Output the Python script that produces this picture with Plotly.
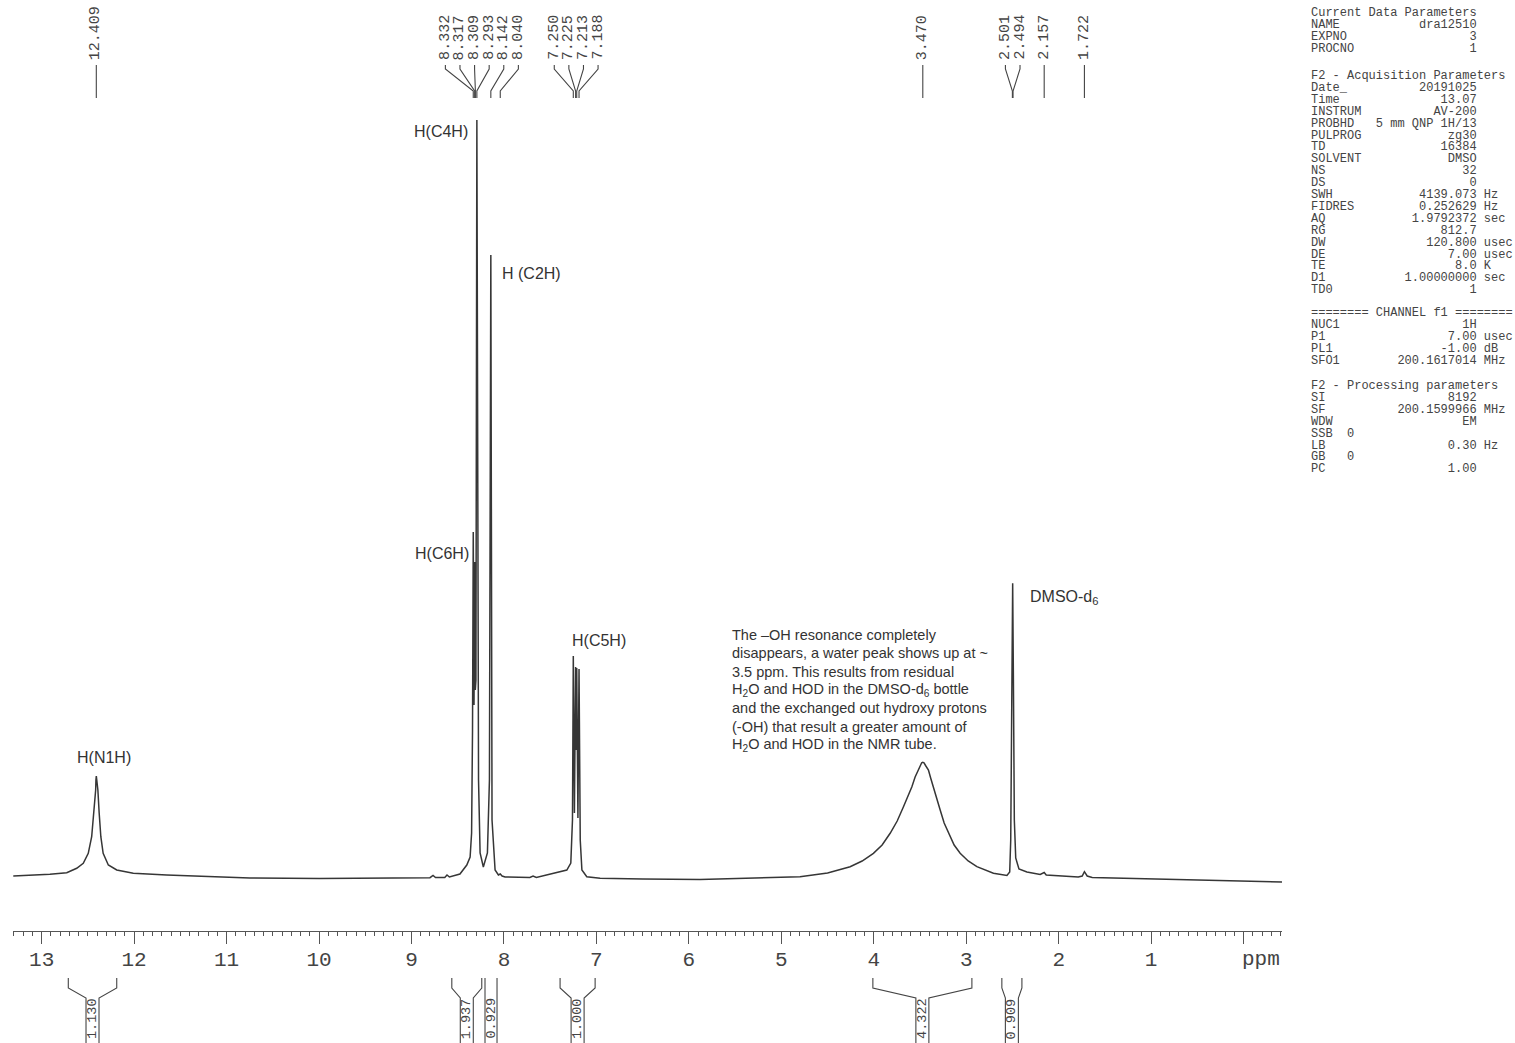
import plotly.graph_objects as go

# ---------------- data ----------------
# digitised 1H NMR trace (chemical shift in ppm, intensity in arbitrary units)
shift_ppm = [
    13.307, 12.911, 12.729, 12.621, 12.550, 12.496, 12.459, 12.434, 12.416, 12.413, 12.409,
    12.404, 12.392, 12.378, 12.360, 12.335, 12.279, 12.188, 12.009, 11.648, 10.748, 10.000,
    9.000, 8.800, 8.767, 8.740, 8.640, 8.616, 8.590, 8.476, 8.402, 8.366,
    8.350, 8.340, 8.332, 8.324, 8.317, 8.310, 8.303, 8.293, 8.285, 8.275,
    8.258, 8.223, 8.179, 8.157, 8.142, 8.129, 8.096, 8.060, 8.040, 8.020,
    7.988, 7.720, 7.685, 7.650, 7.320, 7.277, 7.259, 7.250, 7.238, 7.225,
    7.219, 7.213, 7.200, 7.188, 7.175, 7.157, 7.104, 6.960, 6.500, 5.880,
    4.798, 4.500, 4.256, 4.126, 4.004, 3.910, 3.823, 3.747, 3.679, 3.628,
    3.588, 3.553, 3.517, 3.495, 3.482, 3.470, 3.457, 3.440, 3.409, 3.385,
    3.355, 3.320, 3.282, 3.239, 3.192, 3.131, 3.066, 2.979, 2.885, 2.741,
    2.706, 2.560, 2.530,
    2.519, 2.505, 2.498, 2.490, 2.480, 2.465, 2.430, 2.344, 2.200, 2.157,
    2.135, 1.789, 1.746, 1.722, 1.692, 1.638, 0.577, -0.415,
]
intensity = [
    4.0, 5.7, 7.3, 11.7, 16.7, 26.7, 43.3, 67.0, 90.0, 100.0, 104.0,
    100.0, 90.0, 67.0, 43.3, 26.7, 15.0, 10.0, 6.7, 5.0, 2.0, 1.5,
    2.0, 2.3, 4.5, 2.5, 2.5, 5.0, 3.0, 6.0, 15.0, 23.0,
    47.0, 150.0, 348.0, 175.0, 318.0, 190.0, 200.0, 760.0, 240.0, 100.0,
    27.0, 13.0, 27.0, 100.0, 625.0, 60.0, 10.0, 5.0, 6.0, 4.0,
    3.0, 2.5, 4.0, 2.5, 10.0, 17.0, 60.0, 224.0, 67.0, 213.0,
    130.0, 212.0, 62.0, 211.0, 40.0, 10.0, 3.3, 1.7, 1.0, 0.5,
    3.3, 7.0, 13.3, 19.0, 26.7, 35.0, 46.7, 59.0, 73.3, 84.0,
    93.3, 103.0, 110.0, 115.0, 117.2, 117.7, 117.2, 114.5, 110.0, 102.0,
    93.3, 82.0, 70.0, 57.0, 46.7, 35.0, 26.7, 19.0, 13.3, 8.0,
    6.7, 4.5, 8.0,
    40.0, 200.0, 296.7, 200.0, 60.0, 22.0, 11.0, 8.0, 5.5, 7.5,
    5.0, 3.0, 4.0, 8.3, 4.0, 2.5, 0.0, -2.0,
]

# peak-pick labels (ppm)
peak_list_ppm = [12.409, 8.332, 8.317, 8.309, 8.293, 8.142, 8.040,
                 7.250, 7.225, 7.213, 7.188, 3.470, 2.501, 2.494, 2.157, 1.722]

# integrals
integral_start = [12.712, 8.564, 8.205, 7.393, 4.010, 2.615]
integral_end = [12.188, 8.240, 8.075, 7.014, 2.939, 2.398]
integral_value = ["1.130", "1.937", "0.929", "1.000", "4.322", "0.909"]

# axis ticks
tick_values = [13, 12, 11, 10, 9, 8, 7, 6, 5, 4, 3, 2, 1, 0]
tick_labels = ["13", "12", "11", "10", "9", "8", "7", "6", "5", "4", "3", "2", "1", " "]

# peak assignments
assignment_text = ["H(N1H)", "H(C4H)", "H (C2H)", "H(C6H)", "H(C5H)", "DMSO-d<sub>6</sub>"]

note_lines = [
    "The \u2013OH resonance completely",
    "disappears, a water peak shows up at ~",
    "3.5 ppm. This results from residual",
    "H<sub>2</sub>O and HOD in the DMSO-d<sub>6</sub> bottle",
    "and the exchanged out hydroxy protons",
    "(-OH) that result a greater amount of",
    "H<sub>2</sub>O and HOD in the NMR tube.",
]

# acquisition / processing parameter listing: (name, value, unit)
param_blocks = [
    [("Current Data Parameters", None, None),
     ("NAME", "dra12510", ""), ("EXPNO", "3", ""), ("PROCNO", "1", "")],
    [("F2 - Acquisition Parameters", None, None),
     ("Date_", "20191025", ""), ("Time", "13.07", ""), ("INSTRUM", "AV-200", ""),
     ("PROBHD", "5 mm QNP 1H/13", ""), ("PULPROG", "zg30", ""), ("TD", "16384", ""),
     ("SOLVENT", "DMSO", ""), ("NS", "32", ""), ("DS", "0", ""),
     ("SWH", "4139.073", "Hz"), ("FIDRES", "0.252629", "Hz"), ("AQ", "1.9792372", "sec"),
     ("RG", "812.7", ""), ("DW", "120.800", "usec"), ("DE", "7.00", "usec"),
     ("TE", "8.0", "K"), ("D1", "1.00000000", "sec"), ("TD0", "1", "")],
    [("======== CHANNEL f1 ========", None, None),
     ("NUC1", "1H", ""), ("P1", "7.00", "usec"), ("PL1", "-1.00", "dB"),
     ("SFO1", "200.1617014", "MHz")],
    [("F2 - Processing parameters", None, None),
     ("SI", "8192", ""), ("SF", "200.1599966", "MHz"), ("WDW", "EM", ""),
     ("SSB", "0", "left"), ("LB", "0.30", "Hz"), ("GB", "0", "left"), ("PC", "1.00", "")],
]

# ---------------- layout geometry ----------------
W, H = 1515, 1043
L, R, T, B = 13, 1282, 0, 931
X_LEFT, X_RIGHT = 13.31, -0.415
Y_BOTTOM, Y_TOP = -51, 880

INK = "#333333"
GREY = "#444444"
MONO = "Liberation Mono, Courier New, monospace"
SANS = "Liberation Sans, Arial, sans-serif"


def px_of_ppm(p):
    return L + (X_LEFT - p) / (X_LEFT - X_RIGHT) * (R - L)


def xp(px):
    return (px - L) / (R - L)


def yp(py):
    return (B - py) / (B - T)


fig = go.Figure()
fig.add_trace(go.Scatter(x=shift_ppm, y=intensity, mode="lines",
                         line=dict(color="#363636", width=1.5), hoverinfo="skip",
                         showlegend=False))

shapes = []
annotations = []

# ---- peak-pick labels with connectors ----
SP = 14.6
nat = [px_of_ppm(p) for p in peak_list_ppm]
clusters = [[i] for i in range(len(nat))]


def placement(cl):
    c = sum(nat[i] for i in cl) / len(cl)
    start = c - (len(cl) - 1) / 2 * SP
    return [start + k * SP for k in range(len(cl))]


changed = True
while changed:
    changed = False
    out = []
    for cl in clusters:
        if out and placement(out[-1])[-1] + SP > placement(cl)[0] + 0.01:
            out[-1] = out[-1] + cl
            changed = True
        else:
            out.append(cl)
    clusters = out

LINE = dict(color=GREY, width=1.1)
for cl in clusters:
    pos = placement(cl)
    for i, lx in zip(cl, pos):
        px = nat[i]
        annotations.append(dict(
            x=xp(lx), y=yp(62), xref="paper", yref="paper", text=f"{peak_list_ppm[i]:.3f}",
            textangle=-90, showarrow=False, xanchor="center", yanchor="bottom",
            font=dict(family=MONO, size=15, color=GREY)))
        if abs(lx - px) < 0.6:
            shapes.append(dict(type="line", xref="paper", yref="paper",
                               x0=xp(px), x1=xp(px), y0=yp(65), y1=yp(98), line=LINE))
        else:
            path = (f"M {xp(lx)},{yp(65)} L {xp(lx)},{yp(69)} "
                    f"L {xp(px)},{yp(91)} L {xp(px)},{yp(98)}")
            shapes.append(dict(type="path", xref="paper", yref="paper", path=path, line=LINE))

# ---- integrals below the axis ----
HALF = 6.5
for s, e, v in zip(integral_start, integral_end, integral_value):
    x1, x2 = px_of_ppm(s), px_of_ppm(e)
    c = (x1 + x2) / 2
    if x2 - x1 > 2 * HALF:
        cl, cr = c - HALF, c + HALF
    else:
        cl, cr = x1, x2
    for xa, xb in ((x1, cl), (x2, cr)):
        path = (f"M {xp(xa)},{yp(978)} L {xp(xa)},{yp(988)} "
                f"L {xp(xb)},{yp(998)} L {xp(xb)},{yp(1045)}")
        shapes.append(dict(type="path", xref="paper", yref="paper", path=path, line=LINE))
    annotations.append(dict(
        x=xp(c), y=yp(1041), xref="paper", yref="paper", text=v, textangle=-90,
        showarrow=False, xanchor="center", yanchor="bottom",
        font=dict(family=MONO, size=13.5, color=GREY)))

# ---- assignments ----
assign_pos = [  # (x px, y px, anchor)
    (104, 757, "center"), (470, 131, "right"), (500, 273, "left"),
    (412.7, 553, "left"), (570, 640, "left"), (1028, 597, "left"),
]
for txt, (ax, ay, anc) in zip(assignment_text, assign_pos):
    annotations.append(dict(x=xp(ax), y=yp(ay), xref="paper", yref="paper", text=txt,
                            showarrow=False, xanchor=anc, yanchor="middle",
                            font=dict(family=SANS, size=16, color=INK)))

for k, line in enumerate(note_lines):
    annotations.append(dict(x=xp(730), y=yp(635 + k * 18.35), xref="paper", yref="paper",
                            text=line, showarrow=False, xanchor="left", yanchor="middle",
                            font=dict(family=SANS, size=14.5, color=INK)))

# ---- "ppm" axis title ----
annotations.append(dict(x=xp(1261), y=yp(959), xref="paper", yref="paper", text="ppm",
                        showarrow=False, xanchor="center", yanchor="middle",
                        font=dict(family=MONO, size=21, color=GREY)))

# ---- parameter listing ----
NB = "\u00a0"
block_top = [13, 76, 313, 386]
STEP = 11.9
for top, block in zip(block_top, param_blocks):
    for k, (name, val, unit) in enumerate(block):
        if val is None:
            s = name
        elif unit == "left":
            s = name.ljust(5) + val
        else:
            s = name + val.rjust(23 - len(name))
            if unit:
                s += " " + unit
        annotations.append(dict(x=xp(1309), y=yp(top + k * STEP), xref="paper", yref="paper",
                                text=s.replace(" ", NB), showarrow=False, xanchor="left",
                                yanchor="middle", font=dict(family=MONO, size=12, color=GREY)))

fig.update_layout(
    width=W, height=H, margin=dict(l=L, r=W - R, t=T, b=H - B, pad=0),
    paper_bgcolor="white", plot_bgcolor="white", showlegend=False,
    shapes=shapes, annotations=annotations,
    xaxis=dict(range=[X_LEFT, X_RIGHT], tickmode="array", tickvals=tick_values,
               ticktext=tick_labels, ticks="outside", ticklen=12, tickwidth=1.3,
               tickcolor="#555555", showline=True, linecolor="#555555", linewidth=1.3,
               showgrid=False, zeroline=False,
               tickfont=dict(family=MONO, size=21, color=GREY),
               minor=dict(dtick=0.1, tick0=0, ticks="outside", ticklen=4, tickwidth=1,
                          tickcolor="#555555", showgrid=False)),
    yaxis=dict(range=[Y_BOTTOM, Y_TOP], visible=False, showgrid=False, zeroline=False),
)
try:
    fig.update_xaxes(ticklabelstandoff=-3)
except ValueError:
    fig.update_xaxes(ticklabelstandoff=0)

fig.write_html("out.html", config={"displayModeBar": False},
               post_script="document.body.style.margin='0px';document.body.style.overflow='hidden';")
